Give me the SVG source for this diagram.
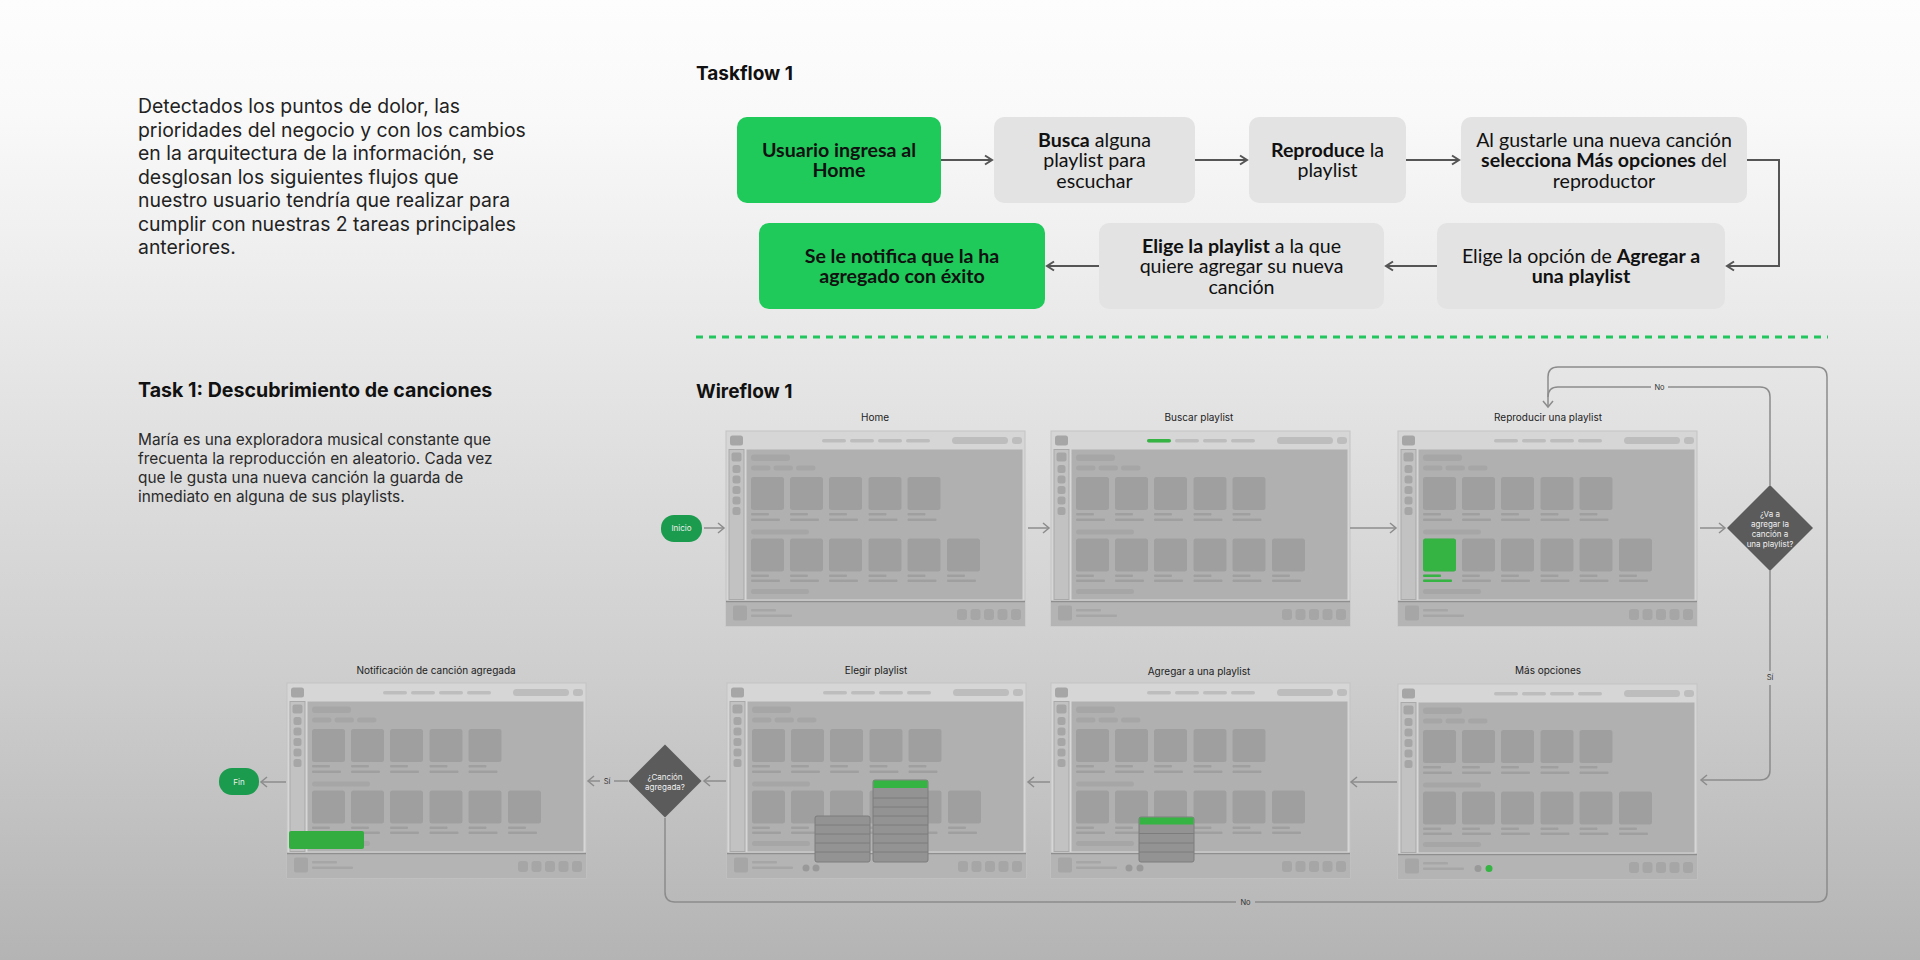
<svg xmlns="http://www.w3.org/2000/svg" xmlns:xlink="http://www.w3.org/1999/xlink" width="1920" height="960" viewBox="0 0 1920 960">
<style>
.intro{font-family:Inter,"Liberation Sans",sans-serif;font-size:19.4px;fill:#222}
.body{font-family:Inter,"Liberation Sans",sans-serif;font-size:15.4px;fill:#2a2a2a}
.h{font-family:Inter,"Liberation Sans",sans-serif;font-size:19px;font-weight:700;fill:#111}
.h2{font-family:Inter,"Liberation Sans",sans-serif;font-size:19.6px;font-weight:700;fill:#111}
.tf{font-family:Lato,"Liberation Sans",sans-serif;font-size:19.6px;fill:#111;text-anchor:middle}
.b{font-weight:700}
.green{fill:#1fc95a}
.gray{fill:#e3e3e3}
.lbl{font-family:Inter,"Liberation Sans",sans-serif;font-size:10px;fill:#222;text-anchor:middle}
.sm{font-family:Inter,"Liberation Sans",sans-serif;font-size:8px;fill:#f0f0f0;text-anchor:middle}
.cl{font-family:Inter,"Liberation Sans",sans-serif;font-size:7.5px;fill:#333;text-anchor:middle}
.c{fill:#9f9f9f}
.d{fill:#a6a6a6}
.n{fill:#bdbdbd}
.hl{fill:#36b443}
.tfline{fill:none;stroke:#555;stroke-width:2}
.wline{fill:none;stroke:#8c8c8c;stroke-width:1.5}
.menu{fill:#939393;stroke:#7c7c7c;stroke-width:1}
.mrow{stroke:#7c7c7c;stroke-width:1}
</style>
<defs>
<linearGradient id="bg" x1="0" y1="0" x2="0" y2="1">
<stop offset="0" stop-color="#fdfdfd"/>
<stop offset="0.12" stop-color="#f9f9f9"/>
<stop offset="0.42" stop-color="#e3e3e3"/>
<stop offset="0.7" stop-color="#cecece"/>
<stop offset="1" stop-color="#b4b4b4"/>
</linearGradient>
<marker id="ta" viewBox="0 0 12 12" refX="10" refY="6" markerWidth="12" markerHeight="12" markerUnits="userSpaceOnUse" orient="auto">
<path d="M3,1.5 L10,6 L3,10.5" fill="none" stroke="#555" stroke-width="2"/>
</marker>
<marker id="wa" viewBox="0 0 12 12" refX="10" refY="6" markerWidth="12" markerHeight="12" markerUnits="userSpaceOnUse" orient="auto">
<path d="M4,1 L10,6 L4,11" fill="none" stroke="#8c8c8c" stroke-width="1.5"/>
</marker>
<g id="scr">
<rect width="299" height="195" fill="#d6d6d6" stroke="#c4c4c4"/>
<rect x="4" y="4.5" width="13" height="10" rx="2.5" class="d"/>
<rect x="96" y="8" width="24" height="3.5" rx="1.75" class="n"/>
<rect x="124" y="8" width="24" height="3.5" rx="1.75" class="n"/>
<rect x="152" y="8" width="24" height="3.5" rx="1.75" class="n"/>
<rect x="180" y="8" width="24" height="3.5" rx="1.75" class="n"/>
<rect x="226" y="6" width="56" height="7" rx="3.5" class="n"/>
<rect x="286" y="6" width="10" height="7" rx="3" class="n"/>
<rect x="3" y="18.5" width="15" height="150" fill="#c2c2c2" stroke="#a9a9a9"/>
<rect x="5.5" y="21.5" width="10" height="9" rx="2" class="d"/>
<rect x="6.5" y="34" width="8" height="8" rx="2.5" class="d"/>
<rect x="6.5" y="44.5" width="8" height="8" rx="2.5" class="d"/>
<rect x="6.5" y="55" width="8" height="8" rx="2.5" class="d"/>
<rect x="6.5" y="65.5" width="8" height="8" rx="2.5" class="d"/>
<rect x="6.5" y="76" width="8" height="8" rx="2.5" class="d"/>
<rect x="20.5" y="18.5" width="276" height="150" fill="#b0b0b0"/>
<rect x="25" y="23.5" width="39" height="6.5" rx="3.25" class="d"/>
<rect x="25" y="34.5" width="19.5" height="5" rx="2.5" class="d"/>
<rect x="47.5" y="34.5" width="19.5" height="5" rx="2.5" class="d"/>
<rect x="70" y="34.5" width="19.5" height="5" rx="2.5" class="d"/>
<rect x="25" y="46" width="33" height="33" rx="2.5" class="c"/>
<rect x="64" y="46" width="33" height="33" rx="2.5" class="c"/>
<rect x="103" y="46" width="33" height="33" rx="2.5" class="c"/>
<rect x="142.5" y="46" width="33" height="33" rx="2.5" class="c"/>
<rect x="181.5" y="46" width="33" height="33" rx="2.5" class="c"/>
<rect x="25" y="82" width="18" height="2.5" rx="1" class="c"/>
<rect x="64" y="82" width="18" height="2.5" rx="1" class="c"/>
<rect x="103" y="82" width="18" height="2.5" rx="1" class="c"/>
<rect x="142.5" y="82" width="18" height="2.5" rx="1" class="c"/>
<rect x="181.5" y="82" width="18" height="2.5" rx="1" class="c"/>
<rect x="25" y="87.5" width="29" height="2.5" rx="1" class="c"/>
<rect x="64" y="87.5" width="29" height="2.5" rx="1" class="c"/>
<rect x="103" y="87.5" width="29" height="2.5" rx="1" class="c"/>
<rect x="142.5" y="87.5" width="29" height="2.5" rx="1" class="c"/>
<rect x="181.5" y="87.5" width="29" height="2.5" rx="1" class="c"/>
<rect x="25" y="98.5" width="58" height="5" rx="2.5" class="d"/>
<rect x="25" y="107.5" width="33" height="33" rx="2.5" class="c"/>
<rect x="64" y="107.5" width="33" height="33" rx="2.5" class="c"/>
<rect x="103" y="107.5" width="33" height="33" rx="2.5" class="c"/>
<rect x="142.5" y="107.5" width="33" height="33" rx="2.5" class="c"/>
<rect x="181.5" y="107.5" width="33" height="33" rx="2.5" class="c"/>
<rect x="221" y="107.5" width="33" height="33" rx="2.5" class="c"/>
<rect x="25" y="143.5" width="18" height="2.5" rx="1" class="c"/>
<rect x="64" y="143.5" width="18" height="2.5" rx="1" class="c"/>
<rect x="103" y="143.5" width="18" height="2.5" rx="1" class="c"/>
<rect x="142.5" y="143.5" width="18" height="2.5" rx="1" class="c"/>
<rect x="181.5" y="143.5" width="18" height="2.5" rx="1" class="c"/>
<rect x="221" y="143.5" width="18" height="2.5" rx="1" class="c"/>
<rect x="25" y="148.5" width="29" height="2.5" rx="1" class="c"/>
<rect x="64" y="148.5" width="29" height="2.5" rx="1" class="c"/>
<rect x="103" y="148.5" width="29" height="2.5" rx="1" class="c"/>
<rect x="142.5" y="148.5" width="29" height="2.5" rx="1" class="c"/>
<rect x="181.5" y="148.5" width="29" height="2.5" rx="1" class="c"/>
<rect x="221" y="148.5" width="29" height="2.5" rx="1" class="c"/>
<rect x="25" y="158" width="58" height="5" rx="2.5" class="d"/>
<rect x="0" y="170" width="299" height="25" fill="#b4b4b4"/>
<line x1="0" y1="170.5" x2="299" y2="170.5" stroke="#8e8e8e" stroke-width="1.5"/>
<rect x="7" y="174.5" width="14" height="15" rx="2" class="d"/>
<rect x="25" y="178" width="25" height="2.5" rx="1" class="d"/>
<rect x="25" y="183.5" width="41" height="2.5" rx="1" class="d"/>
<rect x="231" y="178" width="10" height="11" rx="3" class="d"/>
<rect x="244.5" y="178" width="10" height="11" rx="3" class="d"/>
<rect x="258" y="178" width="10" height="11" rx="3" class="d"/>
<rect x="271.5" y="178" width="10" height="11" rx="3" class="d"/>
<rect x="285" y="178" width="10" height="11" rx="3" class="d"/>
</g>
</defs>

<rect width="1920" height="960" fill="url(#bg)"/>

<g id="intro-text">
<text class="intro" x="138" y="113">Detectados los puntos de dolor, las</text>
<text class="intro" x="138" y="136.5">prioridades del negocio y con los cambios</text>
<text class="intro" x="138" y="160">en la arquitectura de la información, se</text>
<text class="intro" x="138" y="183.5">desglosan los siguientes flujos que</text>
<text class="intro" x="138" y="207">nuestro usuario tendría que realizar para</text>
<text class="intro" x="138" y="230.5">cumplir con nuestras 2 tareas principales</text>
<text class="intro" x="138" y="254">anteriores.</text>
</g>

<g id="task1-text">
<text class="h2" x="138" y="397">Task 1: Descubrimiento de canciones</text>
<text class="body" x="138" y="445">María es una exploradora musical constante que</text>
<text class="body" x="138" y="464">frecuenta la reproducción en aleatorio. Cada vez</text>
<text class="body" x="138" y="483">que le gusta una nueva canción la guarda de</text>
<text class="body" x="138" y="502">inmediato en alguna de sus playlists.</text>
</g>

<text id="taskflow-title" class="h" x="696" y="80">Taskflow 1</text>
<text id="wireflow-title" class="h" x="696" y="398">Wireflow 1</text>

<g id="tf-1">
<rect class="green" x="737" y="117" width="204" height="86" rx="10"/>
<text class="tf b" x="839" y="157">Usuario ingresa al</text>
<text class="tf b" x="839" y="177">Home</text>
</g>
<g id="tf-2">
<rect class="gray" x="994" y="117" width="201" height="86" rx="10"/>
<text class="tf" x="1094.5" y="146.5"><tspan class="b">Busca</tspan> alguna</text>
<text class="tf" x="1094.5" y="167">playlist para</text>
<text class="tf" x="1094.5" y="187.5">escuchar</text>
</g>
<g id="tf-3">
<rect class="gray" x="1249" y="117" width="157" height="86" rx="10"/>
<text class="tf" x="1327.5" y="157"><tspan class="b">Reproduce</tspan> la</text>
<text class="tf" x="1327.5" y="177">playlist</text>
</g>
<g id="tf-4">
<rect class="gray" x="1461" y="117" width="286" height="86" rx="10"/>
<text class="tf" x="1604" y="146.5">Al gustarle una nueva canción</text>
<text class="tf" x="1604" y="167"><tspan class="b">selecciona Más opciones</tspan> del</text>
<text class="tf" x="1604" y="187.5">reproductor</text>
</g>
<g id="tf-5">
<rect class="gray" x="1437" y="223" width="288" height="86" rx="10"/>
<text class="tf" x="1581" y="263">Elige la opción de <tspan class="b">Agregar a</tspan></text>
<text class="tf b" x="1581" y="283">una playlist</text>
</g>
<g id="tf-6">
<rect class="gray" x="1099" y="223" width="285" height="86" rx="10"/>
<text class="tf" x="1241.5" y="252.5"><tspan class="b">Elige la playlist</tspan> a la que</text>
<text class="tf" x="1241.5" y="273">quiere agregar su nueva</text>
<text class="tf" x="1241.5" y="293.5">canción</text>
</g>
<g id="tf-7">
<rect class="green" x="759" y="223" width="286" height="86" rx="10"/>
<text class="tf b" x="902" y="263">Se le notifica que la ha</text>
<text class="tf b" x="902" y="283">agregado con éxito</text>
</g>

<g id="taskflow-connectors">
<line class="tfline" x1="941" y1="160" x2="992" y2="160" marker-end="url(#ta)"/>
<line class="tfline" x1="1195" y1="160" x2="1247" y2="160" marker-end="url(#ta)"/>
<line class="tfline" x1="1406" y1="160" x2="1459" y2="160" marker-end="url(#ta)"/>
<path class="tfline" d="M1747,160 H1779 V266 H1727" marker-end="url(#ta)"/>
<line class="tfline" x1="1437" y1="266" x2="1386" y2="266" marker-end="url(#ta)"/>
<line class="tfline" x1="1099" y1="266" x2="1047" y2="266" marker-end="url(#ta)"/>
</g>

<line id="divider" x1="696" y1="337" x2="1828" y2="337" stroke="#22c55e" stroke-width="3" stroke-dasharray="7 6"/>

<g id="inicio">
<rect x="661" y="515" width="41" height="27" rx="13" fill="#1a9b4d"/>
<text class="sm" x="681.5" y="531">Inicio</text>
</g>

<g id="scr-home">
<text class="lbl" x="875" y="421">Home</text>
<use xlink:href="#scr" x="726" y="431"/>
</g>

<g id="scr-buscar">
<text class="lbl" x="1199" y="421">Buscar playlist</text>
<use xlink:href="#scr" x="1051" y="431"/>
<rect class="hl" x="1147" y="439" width="24" height="3.5" rx="1.75"/>
</g>

<g id="scr-reproducir">
<text class="lbl" x="1548" y="421">Reproducir una playlist</text>
<use xlink:href="#scr" x="1398" y="431"/>
<rect class="hl" x="1423" y="538.5" width="33" height="33" rx="2.5"/>
<rect class="hl" x="1423" y="574.5" width="18" height="2.5" rx="1"/>
<rect class="hl" x="1423" y="579.5" width="29" height="2.5" rx="1"/>
</g>

<g id="dec-agregar">
<polygon points="1770,485 1813,528 1770,571 1727,528" fill="#5b5b5b"/>
<text class="sm" x="1770" y="517">¿Va a</text>
<text class="sm" x="1770" y="527">agregar la</text>
<text class="sm" x="1770" y="537">canción a</text>
<text class="sm" x="1770" y="547">una playlist?</text>
</g>

<g id="scr-masopciones">
<text class="lbl" x="1548" y="674">Más opciones</text>
<use xlink:href="#scr" x="1398" y="684"/>
<circle cx="1478" cy="868.5" r="3.5" fill="#999"/>
<circle cx="1489" cy="868.5" r="3.5" fill="#36b443"/>
</g>

<g id="scr-agregar">
<text class="lbl" x="1199" y="675">Agregar a una playlist</text>
<use xlink:href="#scr" x="1051" y="683"/>
<circle cx="1129" cy="868" r="3.5" fill="#999"/>
<circle cx="1140" cy="868" r="3.5" fill="#999"/>
<rect class="menu" x="1139" y="817" width="55" height="45" rx="2"/>
<rect class="hl" x="1139.5" y="817.5" width="54" height="7"/>
<line class="mrow" x1="1139" y1="833.5" x2="1194" y2="833.5"/>
<line class="mrow" x1="1139" y1="843" x2="1194" y2="843"/>
<line class="mrow" x1="1139" y1="852" x2="1194" y2="852"/>
</g>

<g id="scr-elegir">
<text class="lbl" x="876" y="674">Elegir playlist</text>
<use xlink:href="#scr" x="727" y="683"/>
<circle cx="806" cy="868" r="3.5" fill="#999"/>
<circle cx="816" cy="868" r="3.5" fill="#999"/>
<rect class="menu" x="815" y="816" width="55" height="46" rx="2"/>
<line class="mrow" x1="815" y1="825" x2="870" y2="825"/>
<line class="mrow" x1="815" y1="834" x2="870" y2="834"/>
<line class="mrow" x1="815" y1="843" x2="870" y2="843"/>
<line class="mrow" x1="815" y1="852" x2="870" y2="852"/>
<rect class="menu" x="873" y="780" width="55" height="82" rx="2"/>
<rect class="hl" x="873.5" y="780.5" width="54" height="7.5"/>
<line class="mrow" x1="873" y1="798" x2="928" y2="798"/>
<line class="mrow" x1="873" y1="807" x2="928" y2="807"/>
<line class="mrow" x1="873" y1="816" x2="928" y2="816"/>
<line class="mrow" x1="873" y1="825" x2="928" y2="825"/>
<line class="mrow" x1="873" y1="834" x2="928" y2="834"/>
<line class="mrow" x1="873" y1="843" x2="928" y2="843"/>
<line class="mrow" x1="873" y1="852" x2="928" y2="852"/>
</g>

<g id="dec-cancion">
<polygon points="665,744.5 701.5,781 665,817.5 628.5,781" fill="#5b5b5b"/>
<text class="sm" x="665" y="779.5">¿Canción</text>
<text class="sm" x="665" y="789.5">agregada?</text>
</g>

<g id="scr-notificacion">
<text class="lbl" x="436" y="674">Notificación de canción agregada</text>
<use xlink:href="#scr" x="287" y="683"/>
<rect x="289" y="831" width="75" height="18" rx="2" fill="#33ad40"/>
</g>

<g id="fin">
<rect x="219" y="768" width="40" height="27" rx="13" fill="#1a9b4d"/>
<text class="sm" x="239" y="784.5">Fin</text>
</g>

<g id="wireflow-connectors">
<line class="wline" x1="704" y1="528" x2="724" y2="528" marker-end="url(#wa)"/>
<line class="wline" x1="1028" y1="528" x2="1049" y2="528" marker-end="url(#wa)"/>
<line class="wline" x1="1350" y1="528" x2="1396" y2="528" marker-end="url(#wa)"/>
<line class="wline" x1="1700" y1="528" x2="1725" y2="528" marker-end="url(#wa)"/>
<path class="wline" d="M1770,485 V397 Q1770,387 1760,387 H1668"/>
<path class="wline" d="M1651,387 H1558 Q1548,387 1548,397 V407" marker-end="url(#wa)"/>
<text class="cl" x="1659.5" y="390">No</text>
<path class="wline" d="M1770,571 V671"/>
<text class="cl" x="1770" y="680">Sí</text>
<path class="wline" d="M1770,685 V770 Q1770,780 1760,780 H1701" marker-end="url(#wa)"/>
<line class="wline" x1="1397" y1="782" x2="1351" y2="782" marker-end="url(#wa)"/>
<line class="wline" x1="1050" y1="782" x2="1028" y2="782" marker-end="url(#wa)"/>
<line class="wline" x1="726" y1="781" x2="704" y2="781" marker-end="url(#wa)"/>
<line class="wline" x1="628" y1="781" x2="614" y2="781"/>
<text class="cl" x="607" y="784">Sí</text>
<line class="wline" x1="600" y1="781" x2="588" y2="781" marker-end="url(#wa)"/>
<line class="wline" x1="286" y1="782" x2="261" y2="782" marker-end="url(#wa)"/>
<path class="wline" d="M665,818 V892 Q665,902 675,902 H1236"/>
<text class="cl" x="1245.5" y="905">No</text>
<path class="wline" d="M1255,902 H1817 Q1827,902 1827,892 V377 Q1827,367 1817,367 H1558 Q1548,367 1548,377 V397"/>
</g>
</svg>
